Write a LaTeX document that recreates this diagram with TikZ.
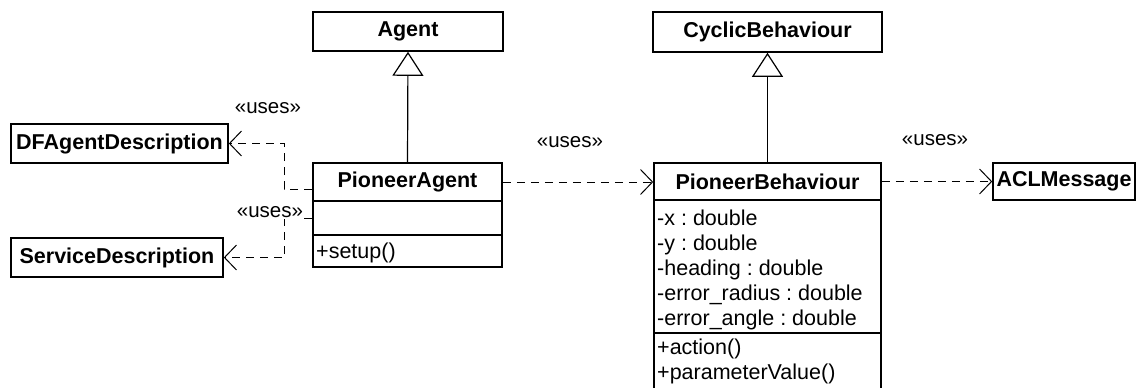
\documentclass[tikz,border=0pt]{standalone}
\usepackage{fontspec}
\setmainfont{Liberation Sans}
\usetikzlibrary{arrows.meta}
\tikzset{
  classbox/.style={draw, line width=1.6pt, fill=white, inner sep=0pt, font=\bfseries\fontsize{21.5}{24}\selectfont},
  compart/.style={draw, line width=1.6pt, inner sep=0pt},
  member/.style={anchor=base west, inner sep=0pt, font=\frenchspacing\fontsize{21.5}{25}\selectfont},
  uses/.style={line width=1pt, dash pattern=on 8pt off 6pt, -{Straight Barb[length=12pt,width=25pt]}},
  inherit/.style={line width=1.2pt, -{Triangle[open,length=24pt,width=31pt]}},
  stereo/.style={inner sep=1pt, font=\fontsize{20.5}{22}\selectfont}
}
\begin{document}
\begin{tikzpicture}[x=1pt,y=-1pt]
		%%%%% START %%%%%
		\useasboundingbox (0,0) rectangle (1141,388);
		\clip (0,0) rectangle (1141,388);
		
		\node[classbox, minimum width=190pt, minimum height=39pt] (agent) at (408,31.5) {Agent};
		\node[classbox, minimum width=229pt, minimum height=40pt] (cyclic) at (767.5,32) {CyclicBehaviour};
		\node[classbox, minimum width=217pt, minimum height=39pt] (dfdesc) at (119.5,143.5) {DFAgentDescription};
		\node[classbox, minimum width=212pt, minimum height=39pt] (sdesc) at (117,257.5) {ServiceDescription};
		\node[classbox, minimum width=142pt, minimum height=37pt] (aclmsg) at (1064,181.5) {ACLMessage};
		
		% PioneerAgent
		\node[classbox, minimum width=189pt, minimum height=38pt] (paname) at (407.5,182) {PioneerAgent};
		\node[compart, minimum width=189pt, minimum height=34pt] (paattr) at (407.5,218) {};
		\node[compart, minimum width=189pt, minimum height=32pt] (paops) at (407.5,251) {};
		\node[member] (pasetup) at (316,258) {+setup()};
		
		% PioneerBehaviour
		\node[classbox, minimum width=227pt, minimum height=37pt] (pbname) at (767.5,181.5) {PioneerBehaviour};
		\node[compart, minimum width=227pt, minimum height=133pt] (pbattr) at (767.5,266.5) {};
		\node[compart, minimum width=227pt, minimum height=60pt] (pbops) at (767.5,363) {};
		\foreach \m [count=\i] in {-x : double, -y : double, -heading : double,
		    -error\_radius : double, -error\_angle : double}
		  \node[member] (pbattr\i) at (657,200+25*\i) {\m};
		\node[member] (pbop1) at (657,354) {+action()};
		\node[member] (pbop2) at (657,379) {+parameterValue()};
		
		\draw[inherit] (paname.north) -- (agent.south);
		\draw[inherit] (pbname.north) -- (cyclic.south);
		
		\draw[uses] (paname.east) -- (paname.east -| pbname.west);
		\draw[uses] (pbname.east) -- (aclmsg.west);
		\draw[uses] ([yshift=-7pt]paname.west) -- ++(-28,0) |- (dfdesc.east);
		\draw[uses] (paattr.west) -- ++(-28,0) |- (sdesc.east);
		
		\node[stereo] (uses1) at (268,108) {«uses»};
		\node[stereo, fill=white] (uses2) at (270,212) {«uses»};
		\node[stereo] (uses3) at (570,142) {«uses»};
		\node[stereo] (uses4) at (935,140) {«uses»};
		%%%%% END %%%%%
\end{tikzpicture}
\end{document}
